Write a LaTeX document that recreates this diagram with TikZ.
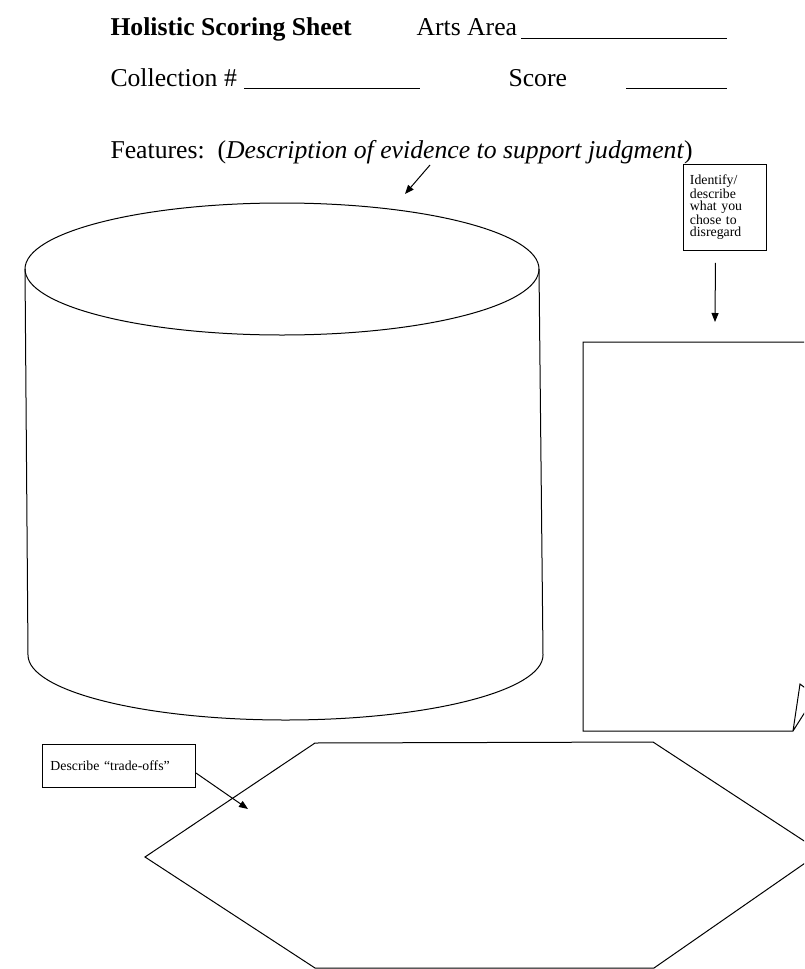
\documentclass[tikz,border=0pt]{standalone}
\usepackage{fontspec}
\setmainfont{Liberation Serif}
\usetikzlibrary{arrows.meta}

\tikzset{
  sheettext/.style={font=\fontsize{25.7}{30}\selectfont, anchor=base west, inner sep=0pt},
  notebox/.style={draw, line width=0.9pt, inner sep=0pt, align=left,
    font=\fontsize{13.8}{12.5}\selectfont},
  pointer/.style={line width=1pt, -{Triangle[length=9pt,width=7pt]}}
}

\begin{document}
\begin{tikzpicture}[x=1pt, y=-1pt, line width=1pt]
    \useasboundingbox (0,0) rectangle (804,969);
    \clip (0,0) rectangle (804,969);

    \node[sheettext, font=\fontsize{25.7}{30}\selectfont\bfseries] (title) at (110,35) {Holistic Scoring Sheet};
    \node[sheettext] (arts) at (416,35) {Arts Area};
    \node[sheettext] (collection) at (110,86) {Collection \#};
    \node[sheettext] (score) at (508,86) {Score};
    \node[sheettext] (features) at (110,158) {Features:\ \ (\textit{Description of evidence to support judgment})};
    \draw (521,38) -- ++(206,0)
    (244,88) -- ++(176,0)
    (626,88) -- ++(101,0);

    \coordinate (featstart) at (430,165);
    \coordinate (feattip) at (405,194);
    \draw[pointer] (featstart) -- (feattip);

    \draw (282,269) ellipse [x radius=257, y radius=66];
    \draw (25,269) -- (28,655) arc [start angle=180, end angle=0, x radius=257.5, y radius=65] -- (539,269);

    \node[notebox, anchor=north west, minimum width=83pt, minimum height=86pt, text width=70pt]
    (disregard) at (683,164) {Identify/\\describe\\what you\\chose to\\disregard};
    \coordinate (disregardtip) at (715,322);
    \draw[pointer] ([xshift=-9.5pt,yshift=-12pt]disregard.south) -- (disregardtip);

    \draw (830,342) -- (583,342) -- ++(0,389) -- (793,731) -- ++(7,-47) -- ++(12,9)
    (793,731) -- ++(19,-30);

    \draw (315,743) -- (653,742) -- (821,852) -- (654,968) -- (315,968) -- (145,857) -- cycle;

    \node[notebox, anchor=north west, minimum width=153pt, minimum height=43pt, text width=137pt]
    (tradeoffs) at (42,744) {Describe “trade-offs”};
    \coordinate (tradeoffstip) at (248,809);
    \draw[pointer] ([yshift=-7pt]tradeoffs.east) -- (tradeoffstip);
\end{tikzpicture}
\end{document}
